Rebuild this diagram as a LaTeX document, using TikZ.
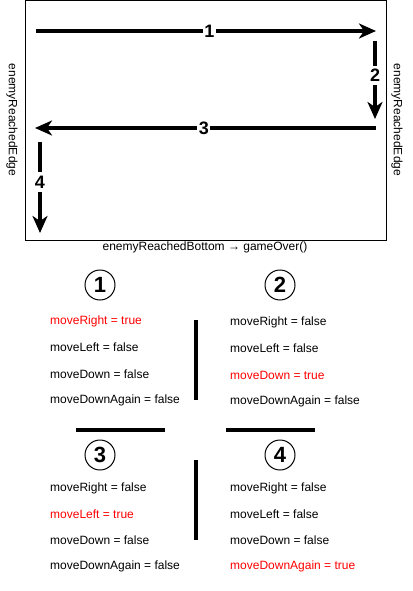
\documentclass[tikz,border=0pt]{standalone}
\usepackage{fontspec}
\setmainfont{Liberation Sans}
\usetikzlibrary{arrows.meta}
\begin{document}
\begin{tikzpicture}[x=1pt,y=-1pt,
  bigarrow/.style={line width=4pt,-{Stealth[length=17pt,width=15pt,inset=5pt]}},
  lbl/.style={fill=white,font=\fontsize{18}{18}\selectfont\bfseries,inner sep=1.5pt},
  vlbl/.style={fill=white,font=\fontsize{18}{18}\selectfont\bfseries,inner sep=3.5pt},
  side/.style={font=\fontsize{12}{12}\selectfont,rotate=-90},
  txt/.style={font=\fontsize{12}{12}\selectfont,anchor=west,inner sep=0pt},
  hot/.style={txt,text=red},
  num/.style={circle,draw,line width=1pt,minimum size=30pt,inner sep=0pt,font=\fontsize{22}{22}\selectfont\bfseries},
  sep/.style={line width=3.2pt}]
\useasboundingbox (0,0) rectangle (412,591);
% frame
\node[draw,line width=1pt,minimum width=361pt,minimum height=239pt,inner sep=0pt] (frame) at (205.5,120.5) {};
% arrows
\coordinate (a1s) at (36,31); \coordinate (a1e) at (376,31);
\coordinate (a2s) at (375,41); \coordinate (a2e) at (375,119);
\coordinate (a3s) at (376,128); \coordinate (a3e) at (35,128);
\coordinate (a4s) at (40,142); \coordinate (a4e) at (40,233);
\draw[bigarrow] (a1s) -- node[lbl,pos=0.51] (l1) {1} (a1e);
\draw[bigarrow] (a2s) -- node[vlbl,pos=0.44] (l2) {2} (a2e);
\draw[bigarrow] (a3s) -- node[lbl,pos=0.505] (l3) {3} (a3e);
\draw[bigarrow] (a4s) -- node[vlbl,pos=0.44] (l4) {4} (a4e);
% side texts
\node[side] (eL) at (12,120) {enemyReachedEdge};
\node[side] (eR) at (397,120) {enemyReachedEdge};
\node[font=\fontsize{12}{12}\selectfont] (bot) at (205,247) {enemyReachedBottom → gameOver()};
% numbered circles
\node[num] (c1) at (100,285) {1};
\node[num] (c2) at (280,285) {2};
\node[num] (c3) at (100,455) {3};
\node[num] (c4) at (280,455) {4};
% state 1
\node[hot] (s1a) at (50,321) {moveRight = true};
\node[txt] (s1b) at (50,347) {moveLeft = false};
\node[txt] (s1c) at (50,374) {moveDown = false};
\node[txt] (s1d) at (50,400) {moveDownAgain = false};
% state 2
\node[txt] (s2a) at (230,322) {moveRight = false};
\node[txt] (s2b) at (230,348) {moveLeft = false};
\node[hot] (s2c) at (230,375) {moveDown = true};
\node[txt] (s2d) at (230,401) {moveDownAgain = false};
% state 3
\node[txt] (s3a) at (50,488) {moveRight = false};
\node[hot] (s3b) at (50,514) {moveLeft = true};
\node[txt] (s3c) at (50,540) {moveDown = false};
\node[txt] (s3d) at (50,566) {moveDownAgain = false};
% state 4
\node[txt] (s4a) at (230,488) {moveRight = false};
\node[txt] (s4b) at (230,514) {moveLeft = false};
\node[txt] (s4c) at (230,540) {moveDown = false};
\node[hot] (s4d) at (230,566) {moveDownAgain = true};
% separators
\coordinate (v1t) at (196,320); \coordinate (v1b) at (196,400);
\coordinate (v2t) at (196,460); \coordinate (v2b) at (196,540);
\coordinate (h1l) at (76,430); \coordinate (h1r) at (165,430);
\coordinate (h2l) at (226,430); \coordinate (h2r) at (315,430);
\draw[sep] (v1t) -- (v1b);
\draw[sep] (v2t) -- (v2b);
\draw[sep] (h1l) -- (h1r);
\draw[sep] (h2l) -- (h2r);
\end{tikzpicture}
\end{document}
